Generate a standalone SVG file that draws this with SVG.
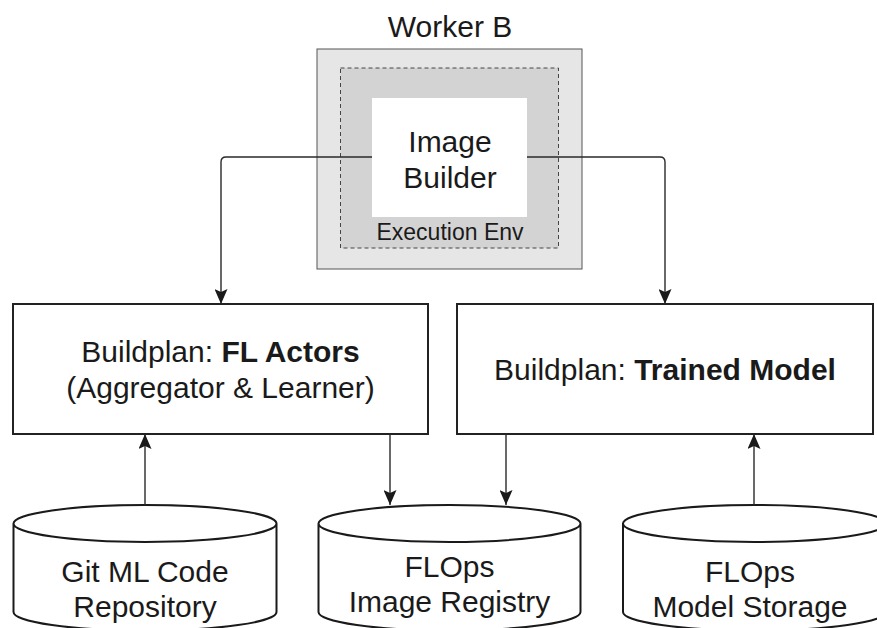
<svg xmlns="http://www.w3.org/2000/svg" width="877" height="628" viewBox="0 0 877 628">
<style>
  text { font-family: "Liberation Sans", Arial, sans-serif; fill: #1a1a1a; text-anchor: middle; }
  .lbl { font-size: 30px; }
  .small { font-size: 23px; }
  .b { font-weight: bold; }
  .box { fill: #ffffff; stroke: #222; stroke-width: 2; }
  .cyl { fill: #ffffff; stroke: #1a1a1a; stroke-width: 2; }
  .conn { fill: none; stroke: #2a2a2a; stroke-width: 1.4; }
</style>
<defs>
  <marker id="arr" viewBox="0 0 15 13" refX="15" refY="6.5" markerWidth="15" markerHeight="13" markerUnits="userSpaceOnUse" orient="auto">
    <path d="M0,0 L15,6.5 L0,13 L3,6.5 Z" fill="#1a1a1a"/>
  </marker>
</defs>
<rect width="877" height="628" fill="#ffffff"/>
<g id="worker-b">
  <text class="lbl" x="450" y="37">Worker B</text>
  <rect x="317" y="49" width="265" height="220" fill="#e6e6e6" stroke="#555" stroke-width="1"/>
  <g id="execution-env">
    <rect x="340.5" y="68" width="218" height="180" fill="#d3d3d3" stroke="#444" stroke-width="1" stroke-dasharray="4 3"/>
    <text class="small" x="450" y="240">Execution Env</text>
  </g>
  <g id="image-builder">
    <rect x="372" y="98" width="155" height="119" fill="#ffffff"/>
    <text class="lbl" x="450" y="152">Image</text>
    <text class="lbl" x="450" y="188">Builder</text>
  </g>
</g>
<g id="buildplan-fl-actors">
  <rect class="box" x="13" y="304" width="415" height="130"/>
  <text class="lbl" x="220.5" y="362">Buildplan: <tspan class="b">FL Actors</tspan></text>
  <text class="lbl" x="220.5" y="398">(Aggregator &amp; Learner)</text>
</g>
<g id="buildplan-trained-model">
  <rect class="box" x="457" y="304" width="416" height="130"/>
  <text class="lbl" x="665" y="380">Buildplan: <tspan class="b">Trained Model</tspan></text>
</g>
<g id="git-repo">
  <path class="cyl" d="M13.5,523.5 A131.5,18.5 0 0 1 276.5,523.5 V612 A131.5,18.5 0 0 1 13.5,612 Z M13.5,523.5 A131.5,18.5 0 0 0 276.5,523.5"/>
  <text class="lbl" x="145" y="582">Git ML Code</text>
  <text class="lbl" x="145" y="617">Repository</text>
</g>
<g id="image-registry">
  <path class="cyl" d="M318.5,523.5 A131,18.5 0 0 1 580.5,523.5 V612 A131,18.5 0 0 1 318.5,612 Z M318.5,523.5 A131,18.5 0 0 0 580.5,523.5"/>
  <text class="lbl" x="449.5" y="577">FLOps</text>
  <text class="lbl" x="449.5" y="612">Image Registry</text>
</g>
<g id="model-storage">
  <path class="cyl" d="M623,523.5 A131.5,18.5 0 0 1 886,523.5 V612 A131.5,18.5 0 0 1 623,612 Z M623,523.5 A131.5,18.5 0 0 0 886,523.5"/>
  <text class="lbl" x="750" y="582">FLOps</text>
  <text class="lbl" x="750" y="617">Model Storage</text>
</g>
<g id="connectors">
  <path class="conn" marker-end="url(#arr)" d="M372,157 H226 Q221,157 221,162 V304"/>
  <path class="conn" marker-end="url(#arr)" d="M527,157 H660 Q665,157 665,162 V304"/>
  <path class="conn" marker-end="url(#arr)" d="M145,505 V434"/>
  <path class="conn" marker-end="url(#arr)" d="M390,434 V505"/>
  <path class="conn" marker-end="url(#arr)" d="M506,434 V505"/>
  <path class="conn" marker-end="url(#arr)" d="M754,505 V434"/>
</g>
</svg>
